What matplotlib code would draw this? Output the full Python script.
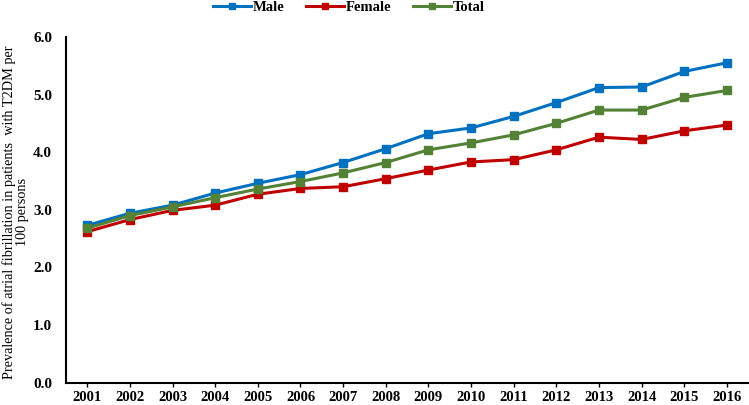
import numpy as np
import matplotlib
matplotlib.use('Agg')
import matplotlib.pyplot as plt

years = list(range(2001, 2017))
male = [2.73, 2.94, 3.08, 3.29, 3.46, 3.61, 3.82, 4.06, 4.32, 4.42, 4.62, 4.86, 5.12, 5.13, 5.40, 5.55]
female = [2.62, 2.83, 2.99, 3.08, 3.27, 3.37, 3.40, 3.54, 3.69, 3.83, 3.87, 4.04, 4.26, 4.22, 4.37, 4.47]
total = [2.68, 2.90, 3.05, 3.21, 3.36, 3.49, 3.64, 3.82, 4.04, 4.16, 4.30, 4.50, 4.73, 4.73, 4.95, 5.07]
yticks = [0.0, 1.0, 2.0, 3.0, 4.0, 5.0, 6.0]

plt.rcParams['font.family'] = ['Liberation Serif', 'DejaVu Serif']

fig = plt.figure(figsize=(7.49, 4.05), dpi=100)
ax = fig.add_axes([0.088, 0.055, 0.911, 0.854])

series = [('Male', male, '#0070C0'), ('Female', female, '#C00000'), ('Total', total, '#538135')]
for name, vals, col in series:
    ax.plot(years, vals, color=col, lw=2.2, marker='s', ms=5.5, label=name)

ax.set_xlim(2000.5, 2016.5)
ax.set_ylim(0, 6)
ax.set_xticks(years)
ax.set_xticklabels([str(y) for y in years], fontweight='bold', fontsize=10.5)
ax.set_yticks(yticks)
ax.set_yticklabels(['%.1f' % v for v in yticks], fontweight='bold', fontsize=11)
ax.tick_params(axis='y', length=0, pad=10)
ax.tick_params(axis='x', length=3, width=1, direction='out', pad=3)
for s in ['top', 'right']:
    ax.spines[s].set_visible(False)
for s in ['left', 'bottom']:
    ax.spines[s].set_linewidth(1.5)

fig.text(0.021, 0.477, 'Prevalence of atrial fibrillation in patients  with T2DM per\n100 persons',
         rotation=90, ha='center', va='center', fontsize=10.3, linespacing=1.05)

leg = fig.legend(loc='center', bbox_to_anchor=(0.466, 0.982), ncol=3, frameon=False,
                 prop={'weight': 'bold', 'size': 10.5}, handlelength=2.6, columnspacing=1.5,
                 handletextpad=0.1, markerscale=0.8)

fig.savefig('out.png', dpi=100)
